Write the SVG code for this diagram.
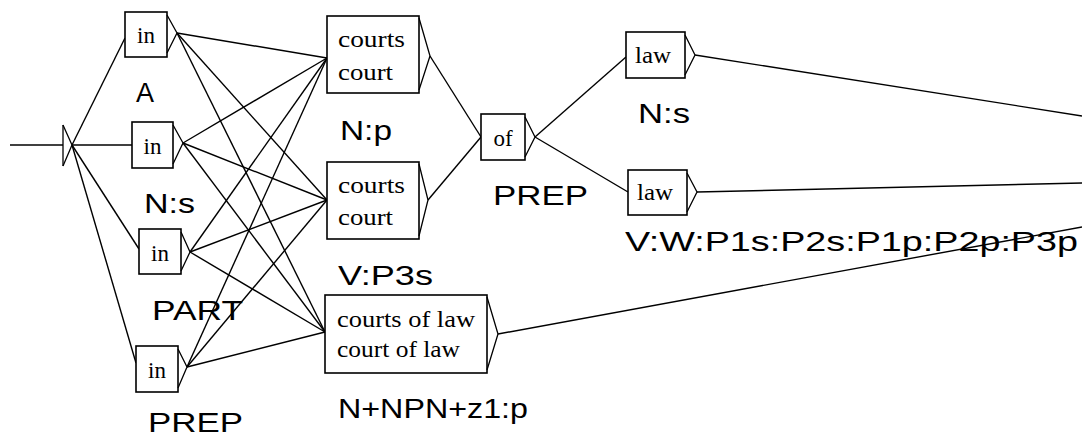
<svg xmlns="http://www.w3.org/2000/svg" width="1082" height="438" viewBox="0 0 1082 438">
<style>
.box{fill:#fff;stroke:#000;stroke-width:1.6}
.tri{fill:none;stroke:#000;stroke-width:1.3}
.e{fill:none;stroke:#000;stroke-width:1.4}
.t{font-family:"Liberation Serif",serif;font-size:23px;fill:#000}
.l{font-family:"Liberation Sans",Arial,sans-serif;font-size:27px;fill:#000}
</style>
<rect width="1082" height="438" fill="#fff"/>
<g id="connectors">
<line class="e" x1="10" y1="145" x2="63" y2="145"/>
<line class="e" x1="72" y1="145" x2="125" y2="38"/>
<line class="e" x1="72" y1="145" x2="132" y2="145"/>
<line class="e" x1="72" y1="145" x2="139" y2="249"/>
<line class="e" x1="72" y1="145" x2="136" y2="363"/>
<line class="e" x1="177" y1="33" x2="327" y2="58"/>
<line class="e" x1="177" y1="33" x2="327" y2="200"/>
<line class="e" x1="177" y1="33" x2="325" y2="332"/>
<line class="e" x1="183" y1="143" x2="327" y2="58"/>
<line class="e" x1="183" y1="143" x2="327" y2="200"/>
<line class="e" x1="183" y1="143" x2="325" y2="332"/>
<line class="e" x1="190" y1="252" x2="327" y2="58"/>
<line class="e" x1="190" y1="252" x2="327" y2="200"/>
<line class="e" x1="190" y1="252" x2="325" y2="332"/>
<line class="e" x1="187" y1="367" x2="327" y2="58"/>
<line class="e" x1="187" y1="367" x2="327" y2="200"/>
<line class="e" x1="187" y1="367" x2="325" y2="332"/>
<line class="e" x1="430" y1="56" x2="481" y2="137"/>
<line class="e" x1="428" y1="200" x2="481" y2="137"/>
<line class="e" x1="535" y1="137" x2="626" y2="57"/>
<line class="e" x1="535" y1="137" x2="628" y2="192"/>
<line class="e" x1="695" y1="55" x2="1082" y2="116"/>
<line class="e" x1="697" y1="192" x2="1082" y2="183"/>
<line class="e" x1="498" y1="334" x2="1082" y2="227"/>
</g>
<g id="start">
<line class="tri" x1="63" y1="125" x2="63" y2="166"/>
<polyline class="tri" points="63,125 72,145 63,166"/>
</g>
<g id="in1">
<rect class="box" x="125" y="12" width="42" height="45"/>
<polyline class="tri" points="167,15 177,33 167,53"/>
<text class="t" x="146" y="43" text-anchor="middle">in</text>
<text class="l" x="136" y="102">A</text>
</g>
<g id="in2">
<rect class="box" x="132" y="122" width="41" height="46"/>
<polyline class="tri" points="173,125 183,143 173,164"/>
<text class="t" x="152.5" y="154" text-anchor="middle">in</text>
<text class="l" x="144" y="213" textLength="51" lengthAdjust="spacingAndGlyphs">N:s</text>
</g>
<g id="in3">
<rect class="box" x="139" y="229" width="42" height="45"/>
<polyline class="tri" points="181,232 190,252 181,271"/>
<text class="t" x="160" y="261" text-anchor="middle">in</text>
<text class="l" x="152" y="320" textLength="91" lengthAdjust="spacingAndGlyphs">PART</text>
</g>
<g id="in4">
<rect class="box" x="136" y="346" width="42" height="46"/>
<polyline class="tri" points="178,349 187,367 178,388"/>
<text class="t" x="157" y="378" text-anchor="middle">in</text>
<text class="l" x="148" y="432" textLength="95" lengthAdjust="spacingAndGlyphs">PREP</text>
</g>
<g id="courts1">
<rect class="box" x="327" y="16" width="92" height="77"/>
<polyline class="tri" points="419,18 430,56 419,90"/>
<text class="t" x="338" y="47" textLength="67" lengthAdjust="spacingAndGlyphs">courts</text>
<text class="t" x="338" y="80" textLength="55" lengthAdjust="spacingAndGlyphs">court</text>
<text class="l" x="340" y="140" textLength="52" lengthAdjust="spacingAndGlyphs">N:p</text>
</g>
<g id="courts2">
<rect class="box" x="327" y="162" width="92" height="77"/>
<polyline class="tri" points="419,164 428,200 419,236"/>
<text class="t" x="338" y="193" textLength="67" lengthAdjust="spacingAndGlyphs">courts</text>
<text class="t" x="338" y="225" textLength="55" lengthAdjust="spacingAndGlyphs">court</text>
<text class="l" x="338" y="285" textLength="95" lengthAdjust="spacingAndGlyphs">V:P3s</text>
</g>
<g id="courtsoflaw">
<rect class="box" x="325" y="295" width="162" height="78"/>
<polyline class="tri" points="487,297 498,334 487,370"/>
<text class="t" x="337" y="327" textLength="138" lengthAdjust="spacingAndGlyphs">courts of law</text>
<text class="t" x="337" y="357" textLength="123" lengthAdjust="spacingAndGlyphs">court of law</text>
<text class="l" x="338" y="418" textLength="190" lengthAdjust="spacingAndGlyphs">N+NPN+z1:p</text>
</g>
<g id="of">
<rect class="box" x="481" y="114" width="44" height="46"/>
<polyline class="tri" points="525,117 535,137 525,157"/>
<text class="t" x="503" y="146" text-anchor="middle">of</text>
<text class="l" x="493" y="205" textLength="95" lengthAdjust="spacingAndGlyphs">PREP</text>
</g>
<g id="law1">
<rect class="box" x="626" y="32" width="59" height="46"/>
<polyline class="tri" points="685,35 695,55 685,75"/>
<text class="t" x="635" y="63" textLength="36" lengthAdjust="spacingAndGlyphs">law</text>
<text class="l" x="638" y="123" textLength="52" lengthAdjust="spacingAndGlyphs">N:s</text>
</g>
<g id="law2">
<rect class="box" x="628" y="170" width="59" height="45"/>
<polyline class="tri" points="687,173 697,192 687,212"/>
<text class="t" x="637" y="200" textLength="36" lengthAdjust="spacingAndGlyphs">law</text>
<text class="l" x="625" y="251" textLength="453" lengthAdjust="spacingAndGlyphs">V:W:P1s:P2s:P1p:P2p:P3p</text>
</g>
</svg>
